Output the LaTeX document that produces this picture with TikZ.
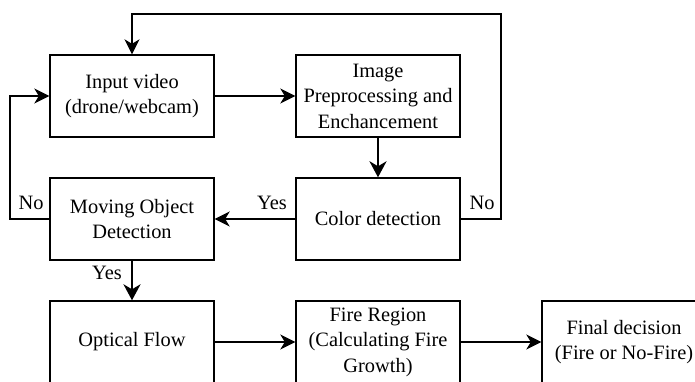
\documentclass[tikz,border=0pt]{standalone}
\usepackage{fontspec}
\setmainfont{Liberation Serif}
\usetikzlibrary{arrows.meta,positioning}

\begin{document}
\begin{tikzpicture}[
    x=1pt, y=-1pt,
    stage/.style={draw, line width=1.4pt, minimum width=164pt, minimum height=82pt,
        inner sep=0pt, align=center, font=\fontsize{20.4}{25.5}\selectfont},
    flow/.style={-{Stealth[length=15pt, width=15pt, inset=4.5pt]}, line width=1.4pt},
    bigflow/.style={-{Stealth[length=16pt, width=17pt, inset=5pt]}, line width=2.7pt},
    tag/.style={font=\fontsize{20.4}{25.5}\selectfont, inner sep=0pt}
]
\clip (0,0) rectangle (695,381);

\node[stage] (input) at (132,96) {Input video\\(drone/webcam)};
\node[stage] (prep) at (378,96) {Image\\Preprocessing and\\Enchancement};
\node[stage] (color) at (378,219) {Color detection};
\node[stage] (moving) at (132,219) {Moving Object\\Detection};
\node[stage] (optical) at (132,342) {Optical Flow};
\node[stage] (region) at (378,342) {Fire Region\\(Calculating Fire\\Growth)};
\node[stage] (final) at (624,342) {Final decision\\(Fire or No-Fire)};

% loop corners
\coordinate (loopR) at (501,14);
\coordinate (loopL) at (10,96);

\draw[flow] (input) -- (prep);
\draw[bigflow] (prep) -- (color);
\draw[flow] (color) -- (moving);
\draw[bigflow] (moving) -- (optical);
\draw[flow] (optical) -- (region);
\draw[flow] (region) -- (final);
\draw[flow] (color.east) -| (loopR) -| (input.north);
\draw[flow] (moving.west) -| (loopL) -- (input.west);

\node[tag] (yescolor) at (272,203) {Yes};
\node[tag] (nocolor) at (482,203) {No};
\node[tag] (nomoving) at (31,203) {No};
\node[tag] (yesmoving) at (107,273) {Yes};
\end{tikzpicture}
\end{document}
